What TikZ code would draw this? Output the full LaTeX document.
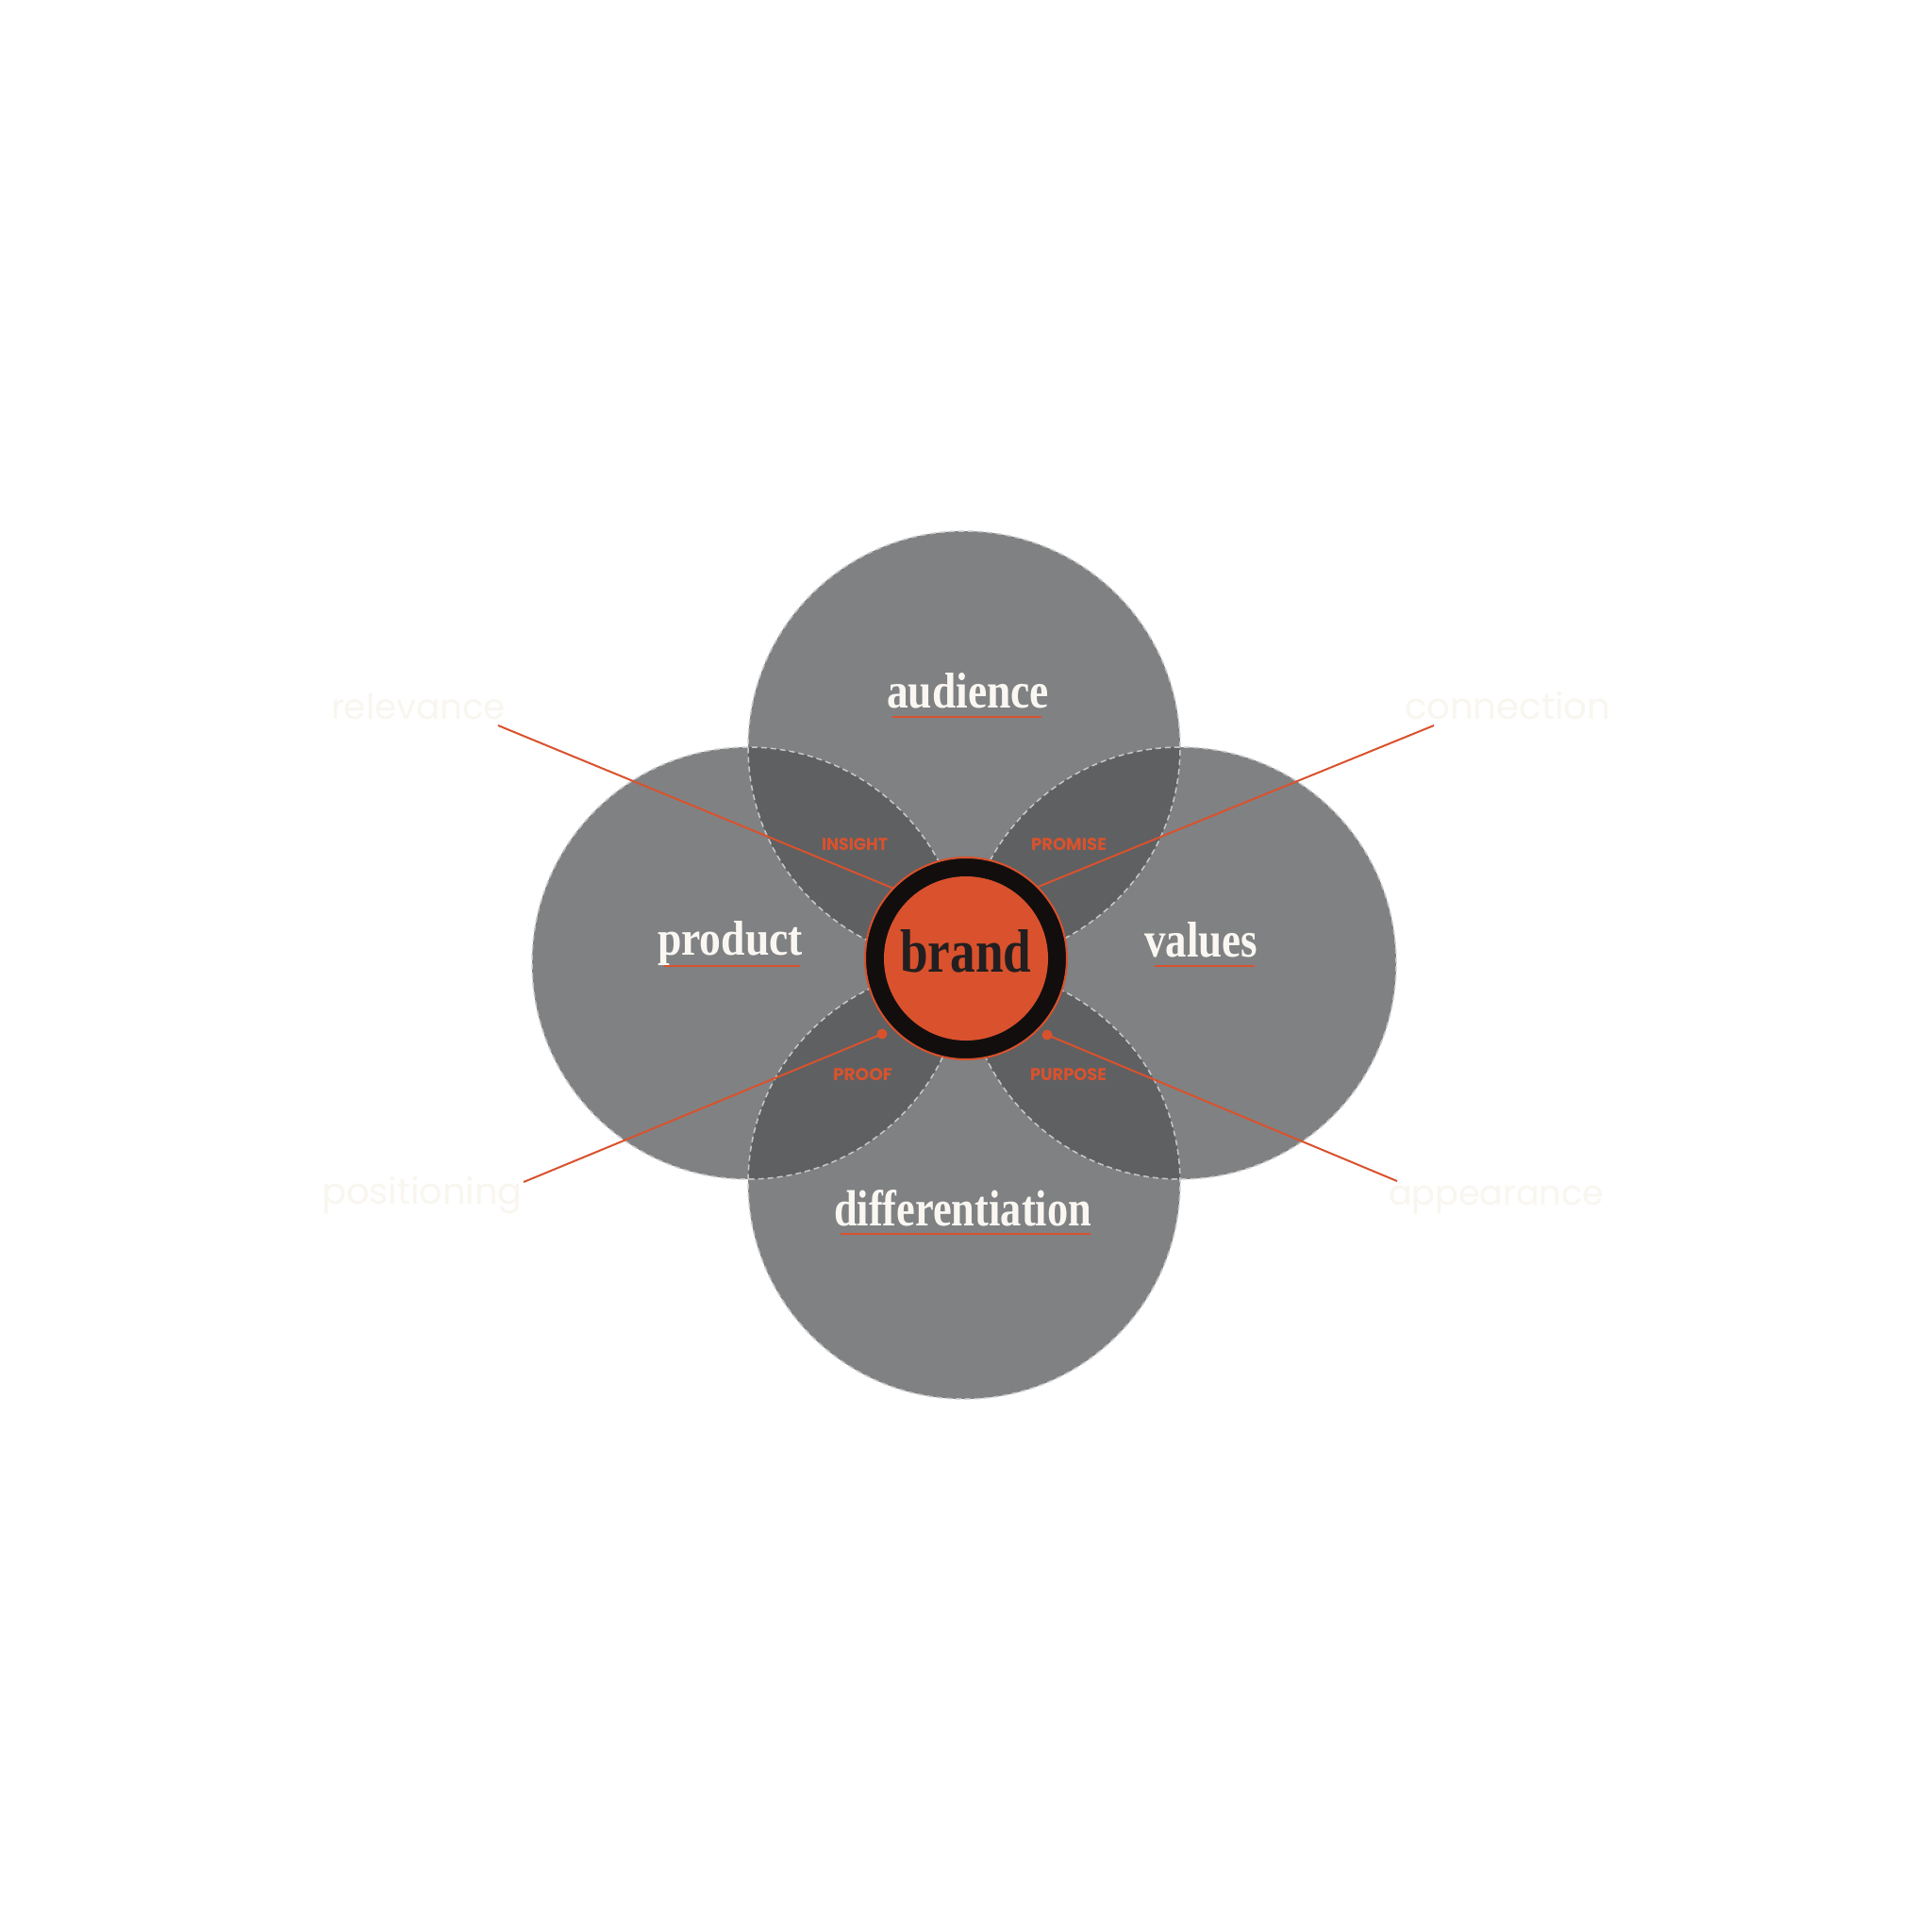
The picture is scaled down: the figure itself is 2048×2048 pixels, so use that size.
\documentclass[tikz,border=0pt]{standalone}
\usepackage{fontspec}
\usepackage{graphicx}
\newfontfamily\titlefont{Liberation Serif}
\newfontfamily\capfont{Poppins}
\newfontfamily\outerfont{Poppins}
\definecolor{brandorange}{RGB}{217,82,45}
\definecolor{ringblack}{RGB}{18,14,13}
\definecolor{cream}{RGB}{250,247,242}
\definecolor{faint}{RGB}{249,246,240}
\definecolor{petal}{RGB}{84,85,87}
\definecolor{dashgray}{RGB}{200,200,200}
\definecolor{brandtext}{RGB}{35,31,32}
\tikzset{
  petalfill/.style={fill=petal, fill opacity=0.738},
  petaledge/.style={draw=dashgray, line width=1.5pt, dash pattern=on 6pt off 4pt},
  connector/.style={draw=brandorange, line width=2pt},
  underline/.style={draw=brandorange, line width=2pt},
  title/.style={anchor=base west, inner sep=0pt, outer sep=0pt, text=cream},
  caplabel/.style={anchor=base west, inner sep=0pt, outer sep=0pt, text=brandorange},
  outerlabel/.style={anchor=base west, inner sep=0pt, outer sep=0pt, text=faint},
}
\begin{document}
\begin{tikzpicture}[x=1pt,y=-1pt]
\useasboundingbox[fill=white] (0,0) rectangle (2048,2048);

% petal circles
\coordinate (ctop) at (1022,792);
\coordinate (cleft) at (793,1021);
\coordinate (cright) at (1251,1021);
\coordinate (cbottom) at (1022,1254);
\fill[petalfill] (ctop) circle[radius=229pt];
\fill[petalfill] (cleft) circle[radius=229pt];
\fill[petalfill] (cright) circle[radius=229pt];
\fill[petalfill] (cbottom) circle[radius=229pt];
\draw[petaledge] (ctop) circle[radius=229pt];
\draw[petaledge] (cleft) circle[radius=229pt];
\draw[petaledge] (cright) circle[radius=229pt];
\draw[petaledge] (cbottom) circle[radius=229pt];

% brand ring node
\node[circle, fill=ringblack, draw=brandorange, line width=2pt, minimum size=214pt, inner sep=0pt, outer sep=0pt] (brand) at (1024,1016) {};

% connectors
\coordinate (relpt) at (528,769);
\coordinate (conpt) at (1520,769);
\coordinate (proofdot) at (935,1096);
\coordinate (pospt) at (555,1253);
\coordinate (purpdot) at (1110,1097);
\coordinate (apppt) at (1481,1252);
\draw[connector] (relpt) -- (brand.136);
\draw[connector] (conpt) -- (brand.45);
\draw[connector] (pospt) -- (proofdot);
\draw[connector] (apppt) -- (purpdot);
\fill[brandorange] (proofdot) circle[radius=5.5pt];
\fill[brandorange] (purpdot) circle[radius=5.5pt];

% brand core
\node[circle, fill=brandorange, minimum size=174pt, inner sep=0pt, outer sep=0pt] (brandcore) at (brand.center) {};
\node[anchor=base west, inner sep=0pt, text=brandtext] (brandlabel) at (954,1030) {\resizebox{139pt}{45pt}{\titlefont\bfseries brand}};

% titles
\node[title] (aud) at (940,750) {\resizebox{172pt}{37pt}{\titlefont\bfseries audience}};
\node[title] (prod) at (697,1012) {\resizebox{154pt}{36pt}{\titlefont\bfseries product}};
\node[title] (val) at (1213,1014) {\resizebox{120pt}{37pt}{\titlefont\bfseries values}};
\node[title] (diff) at (884,1299) {\resizebox{273pt}{38pt}{\titlefont\bfseries differentiation}};
\draw[underline] (946,760) -- (1104,760);
\draw[underline] (704,1024) -- (848,1024);
\draw[underline] (1224,1024) -- (1330,1024);
\draw[underline] (891,1308) -- (1156,1308);

% cap labels
\node[caplabel] (insight) at (871,901.5) {\resizebox{70pt}{13pt}{\capfont\bfseries INSIGHT}};
\node[caplabel] (promise) at (1093,901.5) {\resizebox{80pt}{13pt}{\capfont\bfseries PROMISE}};
\node[caplabel] (proof) at (883,1145.5) {\resizebox{63pt}{13pt}{\capfont\bfseries PROOF}};
\node[caplabel] (purpose) at (1092,1145.5) {\resizebox{81pt}{13pt}{\capfont\bfseries PURPOSE}};

% outer labels
\node[outerlabel] (relevance) at (351,762) {\resizebox{185pt}{!}{\outerfont relevance}};
\node[outerlabel] (connection) at (1489,762) {\resizebox{218pt}{!}{\outerfont connection}};
\node[outerlabel] (positioning) at (341,1276) {\resizebox{213pt}{!}{\outerfont positioning}};
\node[outerlabel] (appearance) at (1472,1277) {\resizebox{228pt}{!}{\outerfont appearance}};
\end{tikzpicture}
\end{document}
